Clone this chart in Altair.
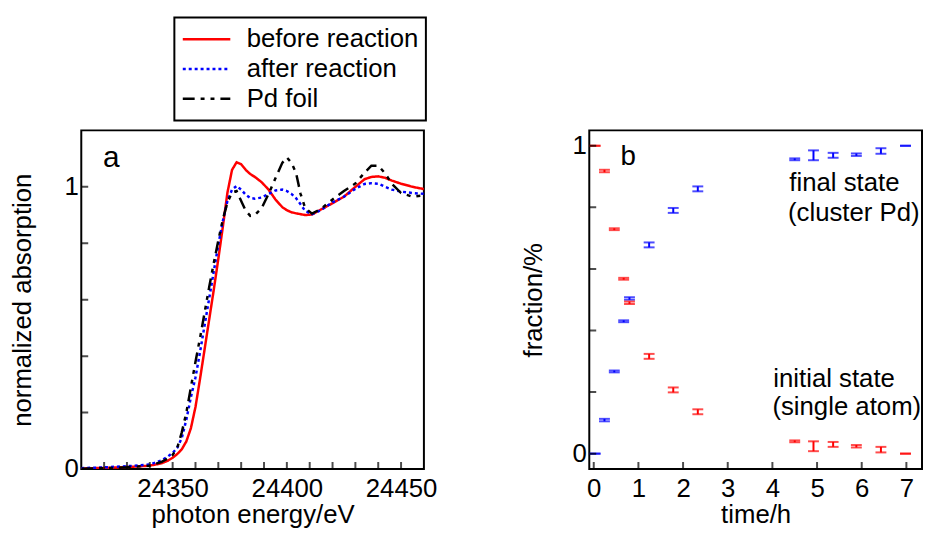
import altair as alt
import pandas as pd

FONT = "Liberation Sans"

# ---------------- panel a: XANES spectra ----------------
energy = [24310, 24320, 24330, 24340, 24345, 24348, 24350, 24352, 24354, 24356,
          24358, 24360, 24362, 24364, 24366, 24368, 24370, 24372, 24374, 24376,
          24378, 24380, 24382, 24384, 24386, 24389, 24392, 24395, 24398, 24400,
          24402, 24404, 24406, 24408, 24411, 24415, 24420, 24425, 24430, 24434,
          24437, 24440, 24443, 24446, 24450, 24455, 24460]

before = [0.002, 0.004, 0.007, 0.012, 0.020, 0.030, 0.040, 0.053, 0.070, 0.098,
          0.145, 0.220, 0.320, 0.425, 0.530, 0.635, 0.745, 0.860, 0.980, 1.060,
          1.087, 1.080, 1.060, 1.045, 1.035, 1.016, 0.990, 0.955, 0.928, 0.917,
          0.910, 0.906, 0.903, 0.900, 0.902, 0.920, 0.942, 0.965, 1.000, 1.027,
          1.035, 1.037, 1.032, 1.022, 1.011, 1.000, 0.992]

after = [0.003, 0.006, 0.010, 0.016, 0.030, 0.045, 0.057, 0.075, 0.110, 0.175,
         0.255, 0.325, 0.415, 0.510, 0.605, 0.700, 0.795, 0.880, 0.950, 0.990,
         1.003, 0.990, 0.972, 0.960, 0.958, 0.962, 0.975, 0.987, 0.990, 0.985,
         0.975, 0.960, 0.938, 0.915, 0.903, 0.918, 0.945, 0.965, 0.993, 1.010,
         1.013, 1.011, 1.000, 0.990, 0.983, 0.978, 0.975]

foil = [0.001, 0.003, 0.006, 0.012, 0.025, 0.038, 0.050, 0.075, 0.130, 0.200,
        0.290, 0.380, 0.465, 0.555, 0.645, 0.730, 0.810, 0.885, 0.945, 0.980,
        0.985, 0.950, 0.915, 0.897, 0.900, 0.925, 0.975, 1.030, 1.085, 1.104,
        1.085, 1.050, 0.975, 0.925, 0.905, 0.922, 0.955, 0.985, 1.012, 1.050,
        1.075, 1.075, 1.048, 1.010, 0.978, 0.965, 0.970]

names = ["before reaction", "after reaction", "Pd foil"]
line_colors = ["#ff0000", "#0000ff", "#000000"]
line_dashes = [[1, 0], [3, 3], [12, 6, 4, 6, 4, 6]]

# axis ticks / labels of panel a
a_xticks = [24320, 24330, 24340, 24350, 24360, 24370, 24380, 24390, 24400,
            24410, 24420, 24430, 24440, 24450]
a_xlabels = [24350, 24400, 24450]
a_yticks = [0.2, 0.4, 0.6, 0.8, 1.0]
a_ylabels = [0, 1]

# ---------------- panel b: fractions ----------------
time_h = [0.03, 0.24, 0.46, 0.67, 0.80, 1.24, 1.78, 2.33, 4.50, 4.92, 5.36, 5.88, 6.43, 6.98]
final_frac = [0.000, 0.109, 0.267, 0.430, 0.504, 0.678, 0.790, 0.860, 0.956, 0.969, 0.969, 0.971, 0.983, 1.000]
initial_frac = [1.000, 0.918, 0.729, 0.568, 0.490, 0.316, 0.207, 0.136, 0.040, 0.024, 0.030, 0.024, 0.013, 0.000]
frac_err = [0.0, 0.004, 0.003, 0.003, 0.004, 0.008, 0.008, 0.008, 0.003, 0.016, 0.008, 0.004, 0.009, 0.0]
states = ["initial", "final"]
state_colors = ["#ff0000", "#0000ff"]

b_xticks = [0, 1, 2, 3, 4, 5, 6, 7]
b_yticks = [0, 0.2, 0.4, 0.6, 0.8, 1.0]
b_ylabels = [0, 1]

labels_a = {"x": [24319.5], "y": [1.07], "t": ["a"]}
labels_b = {
    "x": [0.60, 4.38, 4.35, 4.02, 4.00],
    "y": [0.936, 0.853, 0.757, 0.216, 0.125],
    "t": ["b", "final state", "(cluster Pd)", "initial state", "(single atom)"],
    "s": [28, 26, 26, 26, 26],
}

# ---------------- build ----------------
df_a = pd.concat(
    [pd.DataFrame({"E": energy, "mu": v, "sample": n}) for v, n in zip([before, after, foil], names)],
    ignore_index=True,
)

rows = []
for st, fr in zip(states, [initial_frac, final_frac]):
    for t, f, e in zip(time_h, fr, frac_err):
        rows.append({"state": st, "t": t, "f": f, "lo": f - e, "hi": f + e})
df_b = pd.DataFrame(rows)

common_axis = dict(
    domain=False, grid=False, ticks=False,
    labelFont=FONT, labelFontSize=26, labelColor="black",
    titleFont=FONT, titleFontSize=26, titleFontWeight="normal", titleColor="black",
    labelFlush=False, labelOverlap=False, format="d",
)
x_extra = dict(labelPadding=7, titlePadding=0)

legend = alt.Legend(
    title=None, orient="none", legendX=94, legendY=-114,
    symbolType="stroke", symbolSize=2304, symbolStrokeWidth=2.5,
    clipHeight=30, rowPadding=0, labelFont=FONT, labelFontSize=26, labelColor="black",
    labelOffset=15, labelLimit=400, padding=7, strokeColor="black",
)

A_XDOM = [24310, 24460]
A_YDOM = [0, 1.2]
xs_a = alt.Scale(domain=A_XDOM, nice=False, zero=False)
ys_a = alt.Scale(domain=A_YDOM, nice=False, zero=False)

lines = alt.Chart(df_a).mark_line(strokeWidth=2.5, clip=True).encode(
    x=alt.X("E:Q", scale=xs_a,
            axis=alt.Axis(title="photon energy/eV", values=a_xlabels, **common_axis, **x_extra)),
    y=alt.Y("mu:Q", scale=ys_a,
            axis=alt.Axis(title="normalized absorption", values=a_ylabels,
                          labelPadding=3, titlePadding=29, **common_axis)),
    color=alt.Color("sample:N", scale=alt.Scale(domain=names, range=line_colors), legend=legend),
    strokeDash=alt.StrokeDash("sample:N", scale=alt.Scale(domain=names, range=line_dashes), legend=legend),
)
text_a = alt.Chart(pd.DataFrame(labels_a)).mark_text(
    align="left", baseline="alphabetic", fontSize=30, font=FONT, color="black"
).encode(x="x:Q", y="y:Q", text="t:N")

tick_style = dict(size=14, thickness=2, color="black", clip=True)
a_xt = alt.Chart(pd.DataFrame({"v": a_xticks})).mark_tick(orient="vertical", **tick_style).encode(
    x="v:Q", y=alt.datum(A_YDOM[0]))
a_yt = alt.Chart(pd.DataFrame({"v": a_yticks})).mark_tick(orient="horizontal", **tick_style).encode(
    y="v:Q", x=alt.datum(A_XDOM[0]))

panel_a = alt.layer(lines, text_a, a_xt, a_yt).properties(width=346, height=342)

B_XDOM = [-0.1, 7.35]
B_YDOM = [-0.05, 1.05]
xs_b = alt.Scale(domain=B_XDOM, nice=False, zero=False)
ys_b = alt.Scale(domain=B_YDOM, nice=False, zero=False)
cb = alt.Color("state:N", scale=alt.Scale(domain=states, range=state_colors), legend=None)

base_b = alt.Chart(df_b)
rule_b = base_b.mark_rule(strokeWidth=2).encode(
    x=alt.X("t:Q", scale=xs_b,
            axis=alt.Axis(title="time/h", values=b_xticks, **common_axis, **x_extra)),
    y=alt.Y("lo:Q", scale=ys_b,
            axis=alt.Axis(title="fraction/%", values=b_ylabels,
                          labelPadding=3, titlePadding=26, **common_axis)),
    y2="hi:Q", color=cb)
cap_lo = base_b.mark_tick(orient="horizontal", size=11, thickness=2).encode(
    x="t:Q", y="lo:Q", color=cb)
cap_hi = base_b.mark_tick(orient="horizontal", size=11, thickness=2).encode(
    x="t:Q", y="hi:Q", color=cb)
text_b = alt.Chart(pd.DataFrame(labels_b)).mark_text(
    align="left", baseline="alphabetic", font=FONT, color="black"
).encode(x="x:Q", y="y:Q", text="t:N", size=alt.Size("s:Q", scale=None, legend=None))
b_xt = alt.Chart(pd.DataFrame({"v": b_xticks})).mark_tick(orient="vertical", **tick_style).encode(
    x="v:Q", y=alt.datum(B_YDOM[0]))
b_yt = alt.Chart(pd.DataFrame({"v": b_yticks})).mark_tick(orient="horizontal", **tick_style).encode(
    y="v:Q", x=alt.datum(B_XDOM[0]))

panel_b = alt.layer(rule_b, cap_lo, cap_hi, text_b, b_xt, b_yt).properties(width=336, height=342)

chart = alt.hconcat(panel_a, panel_b, spacing=167, bounds="flush").resolve_scale(
    color="independent", strokeDash="independent"
).resolve_legend(
    color="independent", strokeDash="independent"
).properties(
    padding={"left": 0, "top": 5, "right": 0, "bottom": 0},
    background="white",
).configure_view(stroke="black", strokeWidth=2).configure_legend(strokeWidth=2)

chart.save("out.html", embed_options={"renderer": "svg", "actions": False})
